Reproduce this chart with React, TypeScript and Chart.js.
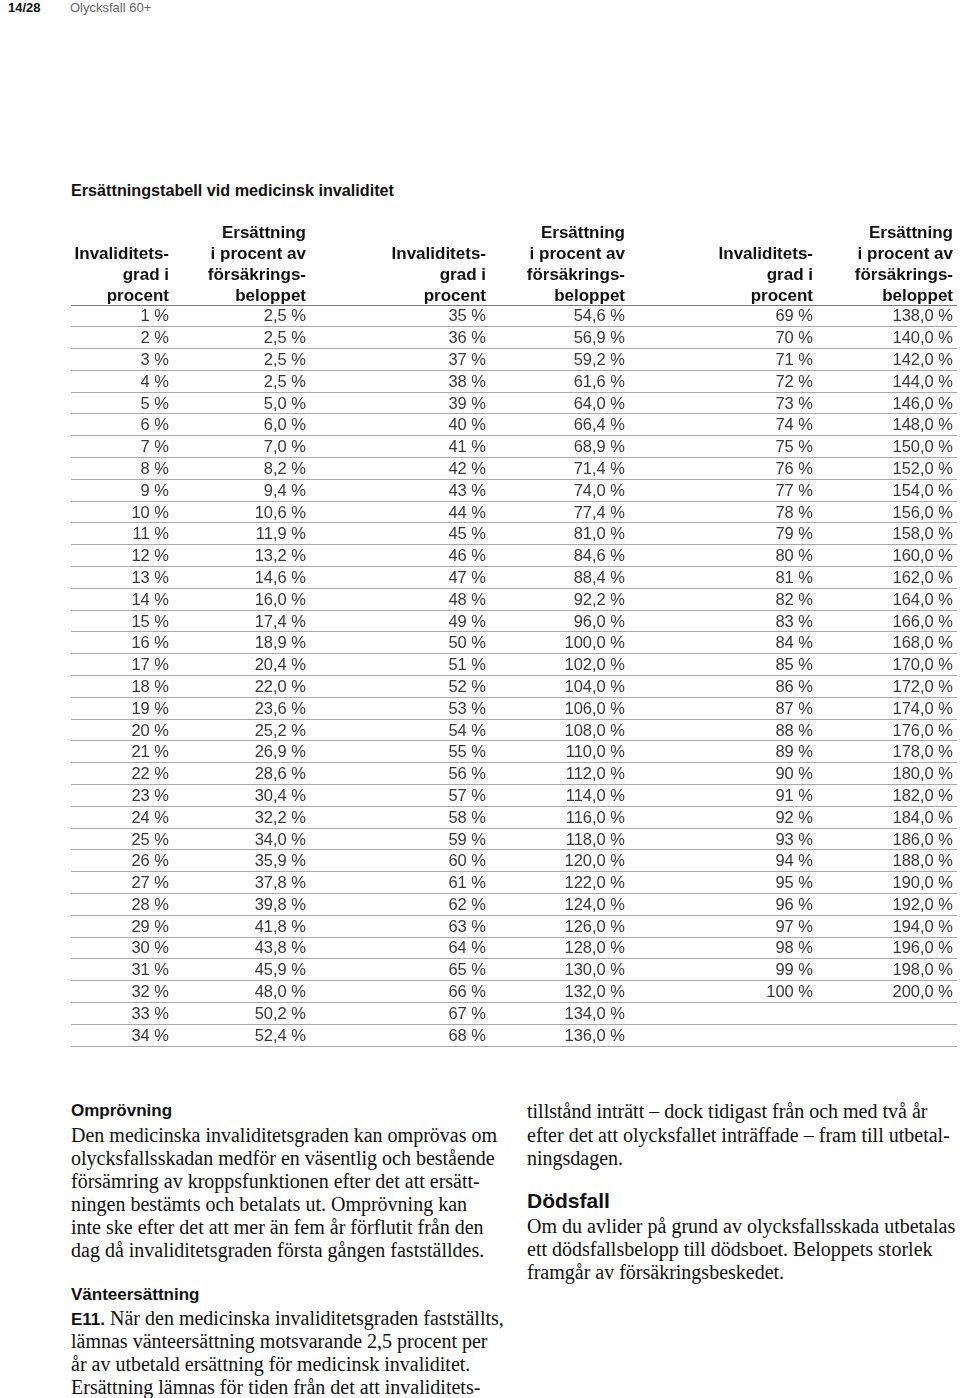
import React, { useEffect, useRef } from "react";
import { Chart, registerables } from "chart.js";

Chart.register(...registerables);

// ---- Data ----
const ROW_SLOTS = ["1", "2", "3", "4", "5", "6", "7", "8", "9", "10", "11", "12", "13", "14", "15", "16", "17", "18", "19", "20", "21", "22", "23", "24", "25", "26", "27", "28", "29", "30", "31", "32", "33", "34"];

const DEGREE_A = [1, 2, 3, 4, 5, 6, 7, 8, 9, 10, 11, 12, 13, 14, 15, 16, 17, 18, 19, 20, 21, 22, 23, 24, 25, 26, 27, 28, 29, 30, 31, 32, 33, 34];
const COMP_A = [2.5, 2.5, 2.5, 2.5, 5.0, 6.0, 7.0, 8.2, 9.4, 10.6, 11.9, 13.2, 14.6, 16.0, 17.4, 18.9, 20.4, 22.0, 23.6, 25.2, 26.9, 28.6, 30.4, 32.2, 34.0, 35.9, 37.8, 39.8, 41.8, 43.8, 45.9, 48.0, 50.2, 52.4];

const DEGREE_B = [35, 36, 37, 38, 39, 40, 41, 42, 43, 44, 45, 46, 47, 48, 49, 50, 51, 52, 53, 54, 55, 56, 57, 58, 59, 60, 61, 62, 63, 64, 65, 66, 67, 68];
const COMP_B = [54.6, 56.9, 59.2, 61.6, 64.0, 66.4, 68.9, 71.4, 74.0, 77.4, 81.0, 84.6, 88.4, 92.2, 96.0, 100.0, 102.0, 104.0, 106.0, 108.0, 110.0, 112.0, 114.0, 116.0, 118.0, 120.0, 122.0, 124.0, 126.0, 128.0, 130.0, 132.0, 134.0, 136.0];

const DEGREE_C = [69, 70, 71, 72, 73, 74, 75, 76, 77, 78, 79, 80, 81, 82, 83, 84, 85, 86, 87, 88, 89, 90, 91, 92, 93, 94, 95, 96, 97, 98, 99, 100];
const COMP_C = [138.0, 140.0, 142.0, 144.0, 146.0, 148.0, 150.0, 152.0, 154.0, 156.0, 158.0, 160.0, 162.0, 164.0, 166.0, 168.0, 170.0, 172.0, 174.0, 176.0, 178.0, 180.0, 182.0, 184.0, 186.0, 188.0, 190.0, 192.0, 194.0, 196.0, 198.0, 200.0];

const HEADER_DEGREE = ["Invaliditets-", "grad i", "procent"];
const HEADER_COMP = ["Ersättning", "i procent av", "försäkrings-", "beloppet"];

// ---- Layout (column right-edge anchors on the x scale) ----
const COLUMN_ANCHORS = [169, 306, 486, 625, 813, 953];

const SANS = '"Liberation Sans", Arial, Helvetica, sans-serif';
const SERIF = '"Liberation Serif", "Times New Roman", serif';

const fmtDeg = (v: number) => `${v} %`;
const fmtComp = (v: number) => `${v.toFixed(1).replace(".", ",")} %`;

const COLUMNS = [
  { values: DEGREE_A, fmt: fmtDeg, header: HEADER_DEGREE },
  { values: COMP_A, fmt: fmtComp, header: HEADER_COMP },
  { values: DEGREE_B, fmt: fmtDeg, header: HEADER_DEGREE },
  { values: COMP_B, fmt: fmtComp, header: HEADER_COMP },
  { values: DEGREE_C, fmt: fmtDeg, header: HEADER_DEGREE },
  { values: COMP_C, fmt: fmtComp, header: HEADER_COMP },
];

const CANVAS_TOP = 200;
const CANVAS_H = 860;

const tablePlugin = {
  id: "tableText",
  afterDatasetsDraw(chart: any) {
    const ctx = chart.ctx;
    ctx.save();
    ctx.textAlign = "right";
    ctx.textBaseline = "middle";
    ctx.font = `16.5px ${SANS}`;
    ctx.fillStyle = "#3a3a3a";
    COLUMNS.forEach((col, ci) => {
      const meta = chart.getDatasetMeta(ci);
      meta.data.forEach((pt: any, i: number) => {
        ctx.fillText(col.fmt(col.values[i]), pt.x, pt.y + 1);
      });
    });
    ctx.font = `bold 17px ${SANS}`;
    ctx.fillStyle = "#111";
    const top = chart.chartArea.top;
    COLUMNS.forEach((col, ci) => {
      const x = chart.scales.x.getPixelForValue(COLUMN_ANCHORS[ci]);
      const n = col.header.length;
      col.header.forEach((t, k) => {
        ctx.fillText(t, x, top - 9 - (n - 1 - k) * 21);
      });
    });
    ctx.restore();
  },
};

function TableChart() {
  const ref = useRef<HTMLCanvasElement | null>(null);
  useEffect(() => {
    if (!ref.current) return;
    const chart = new Chart(ref.current, {
      type: "scatter",
      data: {
        labels: ROW_SLOTS,
        datasets: COLUMNS.map((col, ci) => ({
          label: `col${ci}`,
          data: col.values.map((_, i) => ({ x: COLUMN_ANCHORS[ci], y: ROW_SLOTS[i] as any })),
          pointRadius: 0,
          pointHoverRadius: 0,
          showLine: false,
        })),
      },
      options: {
        responsive: false,
        animation: false,
        events: [],
        layout: { padding: { left: 71, right: 3, top: 105, bottom: CANVAS_TOP + CANVAS_H - 1046 } },
        plugins: { legend: { display: false }, tooltip: { enabled: false } },
        scales: {
          x: { type: "linear", min: 71, max: 957, display: false },
          y: {
            type: "category",
            labels: ROW_SLOTS,
            offset: true,
            ticks: { display: false },
            border: { display: false },
            grid: {
              offset: true,
              drawTicks: false,
              lineWidth: 1,
              color: (c: any) => (c.index === 0 ? "#7a7a7a" : "#a8a8a8"),
            },
          },
        },
      },
      plugins: [tablePlugin],
    } as any);
    return () => chart.destroy();
  }, []);
  return (
    <canvas
      ref={ref}
      width={960}
      height={CANVAS_H}
      style={{ position: "absolute", left: 0, top: CANVAS_TOP, width: 960, height: CANVAS_H, display: "block" }}
    />
  );
}

function Line({ x, cy, size, lh = 23, font = SERIF, weight = 400, color = "#111", children }: any) {
  return (
    <div
      style={{
        position: "absolute",
        left: x,
        top: cy - lh / 2,
        height: lh,
        lineHeight: `${lh}px`,
        fontSize: size,
        fontFamily: font,
        fontWeight: weight,
        color,
        whiteSpace: "nowrap",
      }}
    >
      {children}
    </div>
  );
}

export default function App() {
  return (
    <div style={{ position: "absolute", left: 0, top: 0, width: 960, height: 1398, background: "#fff", overflow: "hidden" }}>
      <Line x={8} cy={8} size={13} lh={16} font={SANS} weight={700}>14/28</Line>
      <Line x={70} cy={8} size={13} lh={16} font={SANS} color="#666">Olycksfall 60+</Line>

      <Line x={71} cy={190} size={16.2} lh={20} font={SANS} weight={700}>Ersättningstabell vid medicinsk invaliditet</Line>

      <TableChart />

      <Line x={71} cy={1111} size={17} lh={20} font={SANS} weight={700}>Omprövning</Line>
      <Line x={71} cy={1135} size={20}>Den medicinska invaliditetsgraden kan omprövas om</Line>
      <Line x={71} cy={1158} size={20}>olycksfallsskadan medför en väsentlig och bestående</Line>
      <Line x={71} cy={1181} size={20}>försämring av kroppsfunktionen efter det att ersätt-</Line>
      <Line x={71} cy={1204} size={20}>ningen bestämts och betalats ut. Omprövning kan</Line>
      <Line x={71} cy={1227} size={20}>inte ske efter det att mer än fem år förflutit från den</Line>
      <Line x={71} cy={1250} size={20}>dag då invaliditetsgraden första gången fastställdes.</Line>

      <Line x={71} cy={1295} size={17} lh={20} font={SANS} weight={700}>Vänteersättning</Line>
      <Line x={71} cy={1318} size={20}>
        <span style={{ fontFamily: SANS, fontWeight: 700, fontSize: 17 }}>E11.</span> När den medicinska invaliditetsgraden fastställts,
      </Line>
      <Line x={71} cy={1341} size={20}>lämnas vänteersättning motsvarande 2,5 procent per</Line>
      <Line x={71} cy={1364} size={20}>år av utbetald ersättning för medicinsk invaliditet.</Line>
      <Line x={71} cy={1387} size={20}>Ersättning lämnas för tiden från det att invaliditets-</Line>

      <Line x={527} cy={1111} size={20}>tillstånd inträtt – dock tidigast från och med två år</Line>
      <Line x={527} cy={1135} size={20}>efter det att olycksfallet inträffade – fram till utbetal-</Line>
      <Line x={527} cy={1158} size={20}>ningsdagen.</Line>

      <Line x={527} cy={1201} size={21} lh={24} font={SANS} weight={700}>Dödsfall</Line>
      <Line x={527} cy={1226} size={20}>Om du avlider på grund av olycksfallsskada utbetalas</Line>
      <Line x={527} cy={1249} size={20}>ett dödsfallsbelopp till dödsboet. Beloppets storlek</Line>
      <Line x={527} cy={1272} size={20}>framgår av försäkringsbeskedet.</Line>
    </div>
  );
}
